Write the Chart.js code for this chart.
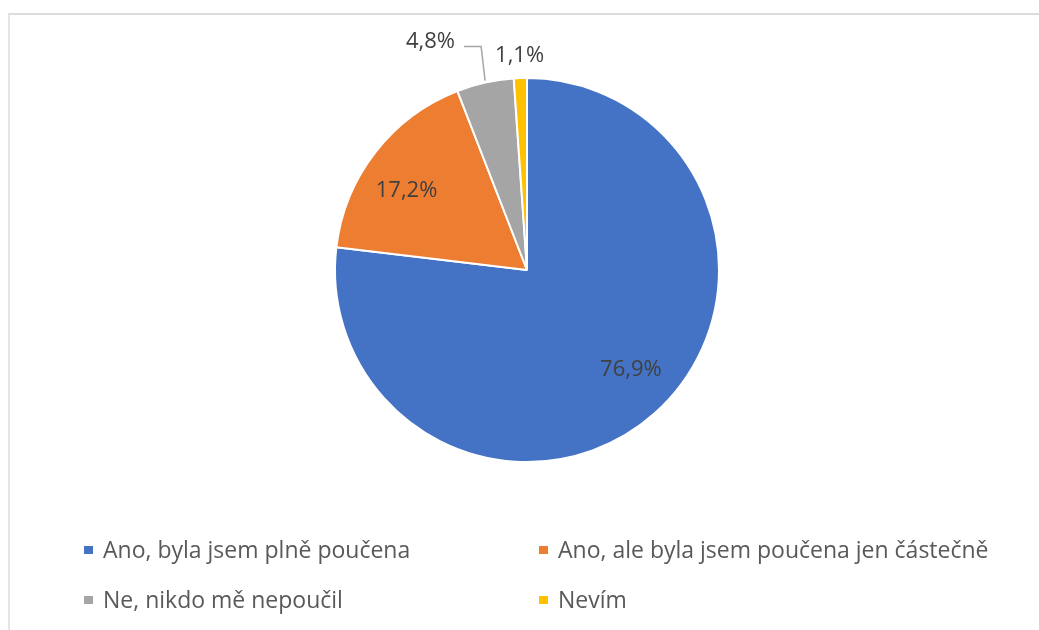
<!DOCTYPE html>
<html>
<head>
<meta charset="utf-8">
<script src="https://cdn.jsdelivr.net/npm/chart.js@4/dist/chart.umd.min.js"></script>
<style>
  html, body { margin: 0; padding: 0; background: #fff; }
  #wrap { position: relative; width: 1039px; height: 630px; overflow: hidden; }
  #frame { position: absolute; left: 8px; top: 13px; width: 1100px; height: 700px;
           border-top: 2px solid #dcdcdc; border-left: 2px solid #e6e6e6; }
  #chart { position: absolute; left: 0; top: 0; }
  .legend-item { position: absolute; font-family: "Open Sans", sans-serif; font-size: 23px;
                 color: #595959; white-space: nowrap; line-height: 28px; }
  .legend-item span.box { position: absolute; width: 9px; height: 8px; left: -19px; top: 11px; }
</style>
</head>
<body>
<div id="wrap">
  <div id="frame"></div>
  <canvas id="chart" width="1039" height="630"></canvas>
  <div id="legend"></div>
</div>
<script>
const labels = [
  "Ano, byla jsem plně poučena",
  "Ano, ale byla jsem poučena jen částečně",
  "Ne, nikdo mě nepoučil",
  "Nevím",
];
const values = [76.9, 17.2, 4.8, 1.1];
const colors = ["#4472C4", "#ED7D31", "#A5A5A5", "#FFC000"];

// legend: two columns, two rows
const legendSpots = [
  { left: 103, top: 535 },
  { left: 558, top: 535 },
  { left: 103, top: 585 },
  { left: 558, top: 585 },
];
const legendEl = document.getElementById("legend");
labels.forEach((name, i) => {
  const item = document.createElement("div");
  item.className = "legend-item";
  item.style.left = legendSpots[i].left + "px";
  item.style.top = legendSpots[i].top + "px";
  const box = document.createElement("span");
  box.className = "box";
  box.style.background = colors[i];
  item.appendChild(box);
  item.appendChild(document.createTextNode(name));
  legendEl.appendChild(item);
});

const fmt = (v) => v.toFixed(1).replace(".", ",") + "%";

const pieLabels = {
  id: "pieLabels",
  afterDatasetsDraw(chart) {
    const ctx = chart.ctx;
    const arcs = chart.getDatasetMeta(0).data;
    ctx.save();
    ctx.font = '22px "Open Sans", sans-serif';
    ctx.fillStyle = "#404040";
    ctx.textAlign = "center";
    ctx.textBaseline = "middle";
    arcs.forEach((arc, i) => {
      const { x, y, startAngle, endAngle, outerRadius } = arc.getProps(["x", "y", "startAngle", "endAngle", "outerRadius"], true);
      const mid = (startAngle + endAngle) / 2;
      const text = fmt(values[i]);
      if (values[i] > 10) {
        const r = outerRadius * 0.75;
        const ang = mid - 0.08;
        ctx.fillText(text, x + Math.cos(ang) * r, y + Math.sin(ang) * r);
      } else if (i === 3) {
        const r = outerRadius + 22;
        ctx.fillText(text, x + Math.cos(mid) * r, y + Math.sin(mid) * r);
      } else {
        // label moved up-left, with a leader line back to the slice
        const ang = mid - 0.18;
        const r = outerRadius + 56;
        const lx = x + Math.cos(ang) * r;
        const ly = y + Math.sin(ang) * r;
        ctx.fillText(text, lx, ly);
        const ex = x + Math.cos(mid) * outerRadius;
        const ey = y + Math.sin(mid) * outerRadius;
        const w = ctx.measureText(text).width;
        ctx.strokeStyle = "#a6a6a6";
        ctx.lineWidth = 1.5;
        ctx.beginPath();
        ctx.moveTo(lx + w / 2 + 9, ly + 5);
        ctx.lineTo(ex - 4, ly + 5);
        ctx.lineTo(ex, ey - 2);
        ctx.stroke();
      }
    });
    ctx.restore();
  },
};

new Chart(document.getElementById("chart"), {
  type: "pie",
  data: {
    labels: labels,
    datasets: [{
      data: values,
      backgroundColor: colors,
      borderColor: "#ffffff",
      borderWidth: 2,
    }],
  },
  options: {
    responsive: false,
    animation: false,
    layout: { padding: { top: 77, bottom: 167, left: 334, right: 319 } },
    plugins: {
      legend: { display: false },
      tooltip: { enabled: false },
    },
  },
  plugins: [pieLabels],
});
</script>
</body>
</html>
